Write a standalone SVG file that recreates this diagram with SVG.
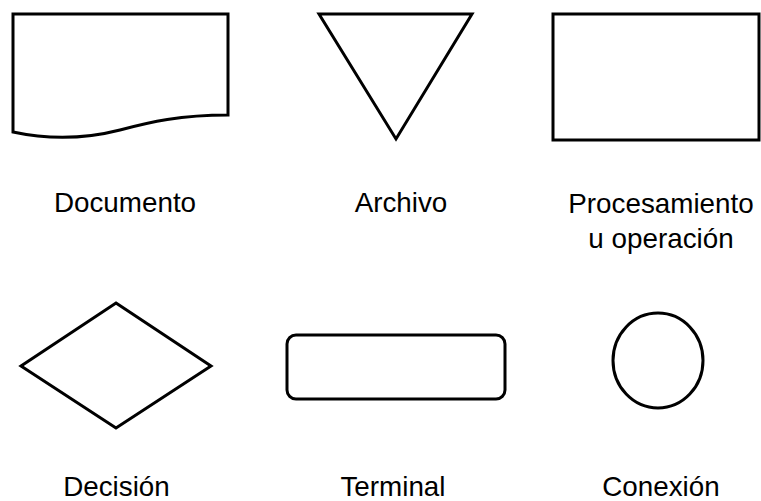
<svg xmlns="http://www.w3.org/2000/svg" width="761" height="501" viewBox="0 0 761 501">
<style>
.s{fill:#fff;stroke:#000;stroke-width:3;stroke-linejoin:miter}
.t{font-family:"Liberation Sans",Arial,sans-serif;font-size:27.8px;fill:#000;text-anchor:middle}
</style>
<rect width="761" height="501" fill="#fff"/>
<g id="documento">
<path class="s" d="M13,14 H228 V115 C180,115 150,122 120,130 C85,139 50,140 13,132 Z"/>
<text class="t" x="125" y="212">Documento</text>
</g>
<g id="archivo">
<path class="s" d="M319,14 H472 L396,139 Z"/>
<text class="t" x="401" y="212">Archivo</text>
</g>
<g id="procesamiento">
<rect class="s" x="553" y="14" width="206" height="126"/>
<text class="t" x="661" y="213">Procesamiento</text>
<text class="t" x="661" y="248">u operación</text>
</g>
<g id="decision">
<path class="s" d="M116,303 L211,366 L116,428 L21,366 Z"/>
<text class="t" x="116.5" y="496">Decisión</text>
</g>
<g id="terminal">
<rect class="s" x="287" y="335" width="218" height="64" rx="9"/>
<text class="t" x="393" y="496">Terminal</text>
</g>
<g id="conexion">
<ellipse class="s" cx="658" cy="360.5" rx="45" ry="47.5"/>
<text class="t" x="661" y="496">Conexión</text>
</g>
<g id="connectors"></g>
</svg>
